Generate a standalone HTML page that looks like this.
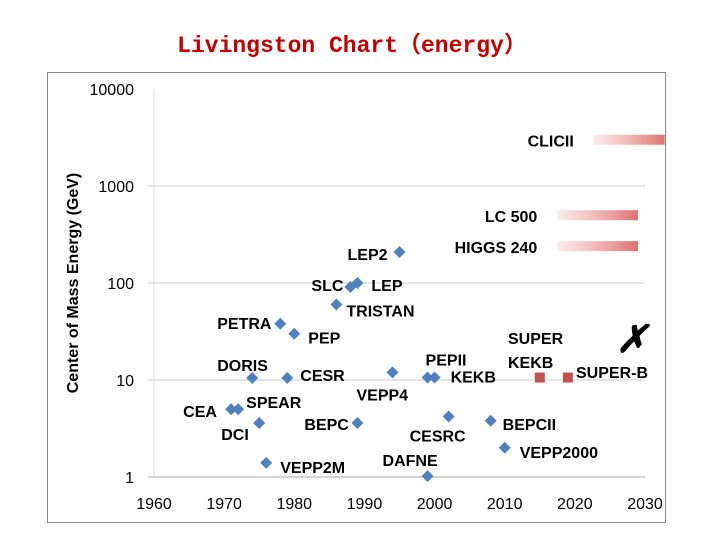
<!DOCTYPE html>
<html><head><meta charset="utf-8"><style>
body{margin:0;width:720px;height:540px;background:#fff;overflow:hidden;font-family:"Liberation Sans","Noto Sans CJK SC",sans-serif}
svg{position:absolute;left:0;top:0}
</style></head><body>
<svg width="720" height="540">
<defs>
<linearGradient id="g" x1="0" x2="1"><stop offset="0" stop-color="#e99" stop-opacity="0.2"/><stop offset="1" stop-color="#e07070"/></linearGradient>
</defs>
<text x="352" y="52" text-anchor="middle" font-family="'Liberation Mono','Noto Sans CJK SC',monospace" font-size="23" font-weight="bold" fill="#c00000">Livingston Chart（energy）</text>
<rect x="47.5" y="72.5" width="618" height="450" fill="none" stroke="#888"/>
<g id="grid"></g><g id="bars"></g><g id="marks"></g><g id="labels" font-weight="bold" font-size="16" fill="#000"></g>
<text transform="translate(78,283) rotate(-90)" text-anchor="middle" font-weight="bold" font-size="16">Center of Mass Energy (GeV)</text>
</svg>
<script>
const xTicks=[1960,1970,1980,1990,2000,2010,2020,2030];
const yTicks=[1,10,100,1000,10000];
const names=["DORIS","CESR","PETRA","PEP","TRISTAN","SLC","LEP","LEP2","CEA","SPEAR","DCI","VEPP2M","BEPC","VEPP4","PEPII","KEKB","CESRC","BEPCII","VEPP2000","DAFNE"];
const years=[1974,1979,1978,1980,1986,1988,1989,1995,1971,1972,1975,1976,1989,1994,1999,2000,2002,2008,2010,1999];
const energies=[10.5,10.5,38,30,60,91,100,209,5,5,3.6,1.4,3.6,12,10.6,10.6,4.2,3.8,2,1.02];
const labelDx=[-35,13,-63,14,10,-39,14,-52,-48,8,-38,14,-53,-36,-2,16,-39,12,15,-45];
const labelDy=[-7,3,5,10,12,4,8,8,8,-1,17,10,7,28,-12,5,25,9,10,-10];
const futNames=["SUPER KEKB","SUPER-B"];
const futYears=[2015,2019];
const futEnergies=[10.6,10.6];
const barNames=["CLICII","LC 500","HIGGS 240"];
const barEnergies=[3000,500,240];
const barStart=[2022.7,2017.5,2017.5];
const barEnd=[2032.8,2029,2029];
const X=y=>154+(y-1960)*(491/70);
const Y=e=>477-Math.log10(e)*97;
const NS="http://www.w3.org/2000/svg";
function mk(p,t,a){const e=document.createElementNS(NS,t);for(const k in a)e.setAttribute(k,a[k]);document.getElementById(p).appendChild(e);return e;}
yTicks.forEach(v=>{
 if(v>1&&v<10000){const l=mk('grid','line',{x1:148,x2:645,y1:Y(v),y2:Y(v),stroke:'#ccc'});
 
 }
 const t=mk('grid','text',{x:134,y:Y(v)+6,'text-anchor':'end','font-size':16});t.textContent=v;
 
 
});
const ax=mk('grid','line',{x1:148,x2:645,y1:Y(1),y2:Y(1),stroke:'#aaa'});


const ay=mk('grid','line',{x1:154,x2:154,y1:Y(10000),y2:Y(1),stroke:'#ddd'});


xTicks.forEach(v=>{const t=mk('grid','text',{x:X(v),y:509,'text-anchor':'middle','font-size':16});t.textContent=v;
 
 });
barNames.forEach((n,i)=>{
 const r=mk('bars','rect',{x:X(barStart[i]),y:Y(barEnergies[i])-5,width:X(barEnd[i])-X(barStart[i]),height:10,fill:'url(#g)'});
 
 
 const t=mk('labels','text',{x:X(barStart[i])-20,y:Y(barEnergies[i])+7,'text-anchor':'end'});t.textContent=n;
 
 
});
names.forEach((n,i)=>{
 const x=X(years[i]),y=Y(energies[i]);
 const p=mk('marks','polygon',{points:`${x},${y-6} ${x+6},${y} ${x},${y+6} ${x-6},${y}`,fill:'#4f81bd'});
 
 
 const t=mk('labels','text',{x:x+labelDx[i],y:y+labelDy[i]});t.textContent=n;
 
 
});
futYears.forEach((yr,i)=>{
 const x=X(yr),y=Y(futEnergies[i]);
 const r=mk('marks','rect',{x:x-5,y:y-5,width:10,height:10,fill:'#c0504d'});
 
 
});
[["SUPER",508,344],["KEKB",508,368],["SUPER-B",576,378]].forEach(([s,x,y])=>{
 const t=mk('labels','text',{x:x,y:y});t.textContent=s;
 
 
});
const c=mk('labels','text',{x:616,y:352,'font-size':38,'font-style':'italic'});c.textContent='✗';


</script>
</body></html>
